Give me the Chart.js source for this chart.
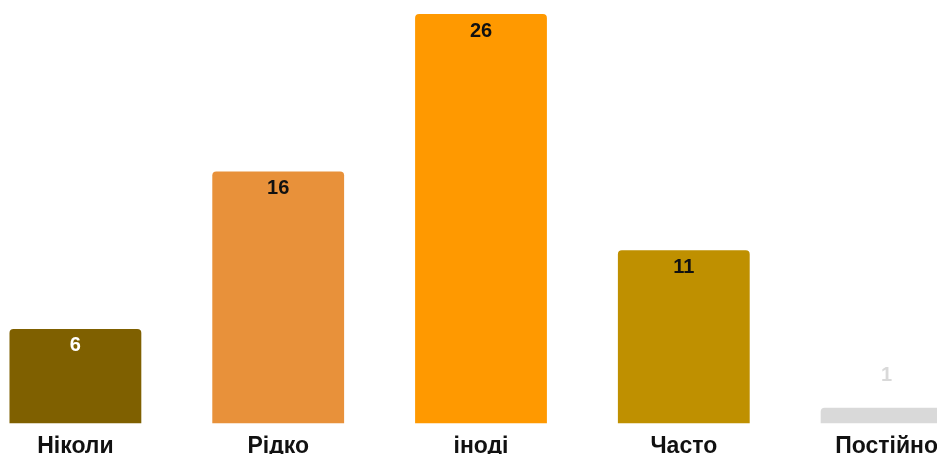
<!DOCTYPE html>
<html>
<head>
<meta charset="utf-8">
<script src="https://cdn.jsdelivr.net/npm/chart.js@4/dist/chart.umd.min.js"></script>
<style>
  html, body { margin: 0; padding: 0; background: #fff; overflow: hidden; }
  body { width: 937px; height: 454px; position: relative; }
  #wrap { position: absolute; left: -26px; top: 0; width: 1014px; height: 461px; }
</style>
</head>
<body>
<div id="wrap"><canvas id="grafico"></canvas></div>
<script>
const categorias = ['Ніколи', 'Рідко', 'іноді', 'Часто', 'Постійно'];
const valores = [6, 16, 26, 11, 1];
const cores = ['#7f6000', '#e8913a', '#ff9900', '#bf9000', '#d9d9d9'];
const coresRotulo = ['#ffffff', '#111111', '#111111', '#111111', '#d9d9d9'];

// desenha o valor no topo de cada barra (dentro, ou acima se a barra for baixa)
const rotulosValor = {
  id: 'rotulosValor',
  afterDatasetsDraw(chart) {
    const ctx = chart.ctx;
    const meta = chart.getDatasetMeta(0);
    ctx.save();
    ctx.font = 'bold 20px "Liberation Sans", Arial, sans-serif';
    ctx.textAlign = 'center';
    ctx.textBaseline = 'middle';
    meta.data.forEach((barra, i) => {
      const altura = barra.base - barra.y;
      const y = altura < 30 ? barra.y - 32 : barra.y + 17;
      ctx.fillStyle = coresRotulo[i];
      ctx.fillText(valores[i], barra.x, y);
    });
    ctx.restore();
  }
};

new Chart(document.getElementById('grafico'), {
  type: 'bar',
  data: {
    labels: categorias,
    datasets: [{
      data: valores,
      backgroundColor: cores,
      borderRadius: { topLeft: 4, topRight: 4 },
      borderSkipped: 'start',
      categoryPercentage: 0.65,
      barPercentage: 1
    }]
  },
  options: {
    responsive: true,
    maintainAspectRatio: false,
    animation: false,
    layout: { padding: { top: 14, left: 0, right: 0, bottom: 0 } },
    plugins: {
      legend: { display: false },
      tooltip: { enabled: false }
    },
    scales: {
      y: { display: false, min: 0, max: 26 },
      x: {
        grid: { display: false },
        border: { display: false },
        ticks: {
          color: '#111111',
          padding: 1,
          font: { family: '"Liberation Sans", Arial, sans-serif', size: 23, weight: 'bold' }
        }
      }
    }
  },
  plugins: [rotulosValor]
});
</script>
</body>
</html>
